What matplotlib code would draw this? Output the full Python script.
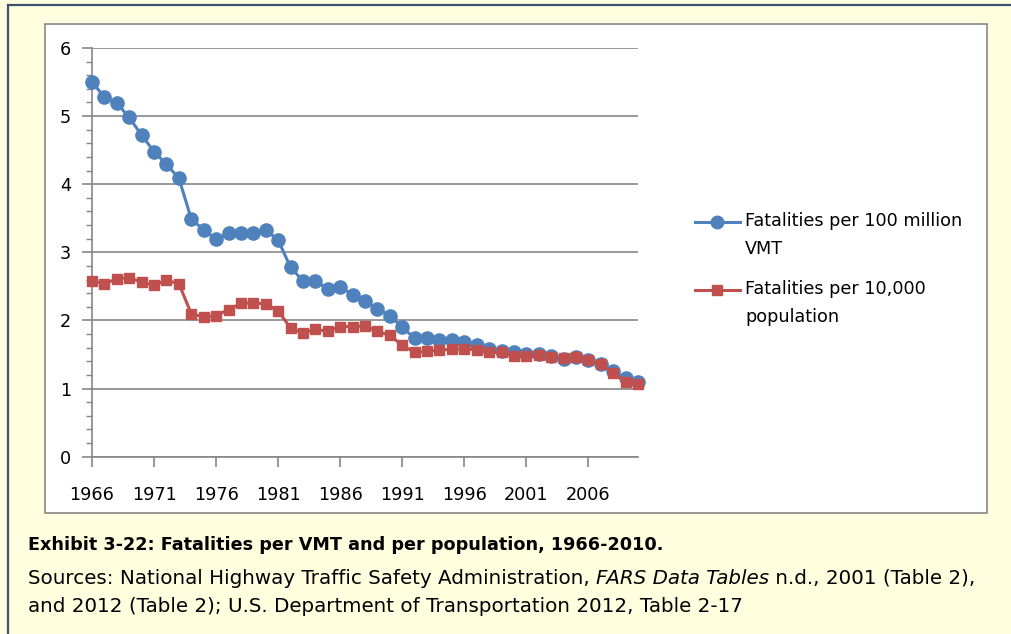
import matplotlib
matplotlib.use("Agg")
import matplotlib.pyplot as plt
from matplotlib.patches import Rectangle
from matplotlib.lines import Line2D

years = list(range(1966, 2011))
vmt_rate = [5.50, 5.28, 5.19, 4.98, 4.72, 4.48, 4.29, 4.09, 3.49, 3.33,
            3.19, 3.28, 3.28, 3.28, 3.33, 3.18, 2.78, 2.58, 2.58, 2.46,
            2.49, 2.38, 2.29, 2.17, 2.07, 1.90, 1.74, 1.74, 1.72, 1.72,
            1.69, 1.64, 1.58, 1.55, 1.53, 1.51, 1.51, 1.48, 1.44, 1.46,
            1.42, 1.36, 1.26, 1.15, 1.10]
pop_rate = [2.58, 2.54, 2.61, 2.63, 2.56, 2.52, 2.59, 2.54, 2.10, 2.05,
            2.07, 2.16, 2.25, 2.26, 2.24, 2.14, 1.89, 1.82, 1.87, 1.84,
            1.91, 1.91, 1.92, 1.84, 1.78, 1.64, 1.53, 1.55, 1.56, 1.58,
            1.58, 1.57, 1.53, 1.53, 1.48, 1.48, 1.49, 1.47, 1.45, 1.46,
            1.42, 1.36, 1.23, 1.10, 1.06]
series_labels = ["Fatalities per 100 million\nVMT", "Fatalities per 10,000\npopulation"]
x_tick_labels = [str(y) for y in range(1966, 2007, 5)]
caption_title = "Exhibit 3-22: Fatalities per VMT and per population, 1966-2010."

W, H = 1012, 634
FONT = "DejaVu Sans"
BLUE = "#4F81BD"
RED = "#C0504D"
GRID = "#868686"
YELLOW = "#FFFFE0"

fig = plt.figure(figsize=(W / 100, H / 100), dpi=100, facecolor=YELLOW)
renderer = fig.canvas.get_renderer()

def fx(px):
    return px / W

def fy(py):
    return 1 - py / H

# outer border (right and bottom edges lie outside the visible crop)
fig.patches.append(Rectangle((fx(8), fy(660)), fx(1040 - 8), (660 - 5) / H,
                             transform=fig.transFigure, facecolor=YELLOW,
                             edgecolor="#3B506E", linewidth=1.6, zorder=0))
# chart area
fig.patches.append(Rectangle((fx(45), fy(513)), fx(987 - 45), (513 - 24) / H,
                             transform=fig.transFigure, facecolor="white",
                             edgecolor=GRID, linewidth=1.2, zorder=1))

ax_l, ax_r, ax_t, ax_b = 92, 638, 48, 456.7
ax = fig.add_axes([fx(ax_l), fy(ax_b), fx(ax_r - ax_l), (ax_b - ax_t) / H], zorder=2)
ax.set_facecolor("none")
ax.plot(years, vmt_rate, color=BLUE, lw=2.2, marker="o", ms=9.5, zorder=3,
        clip_on=False, label=series_labels[0])
ax.plot(years, pop_rate, color=RED, lw=2.2, marker="s", ms=7.5, zorder=4,
        clip_on=False, label=series_labels[1])

ax.set_xlim(1966, 2010)
ax.set_ylim(0, 6)
ax.set_yticks(range(0, 7))
ax.set_yticks([i * 0.2 for i in range(31)], minor=True)
ax.set_xticks(list(range(1966, 2007, 5)))
ax.set_xticklabels(x_tick_labels)
ax.grid(axis="y", which="major", color=GRID, lw=1.2)
ax.set_axisbelow(True)
for s in ["top", "right"]:
    ax.spines[s].set_visible(False)
for s in ["left", "bottom"]:
    ax.spines[s].set_color(GRID)
    ax.spines[s].set_linewidth(1.2)
ax.tick_params(axis="y", which="major", length=7, width=1.2, color=GRID,
               labelsize=12.7, pad=8)
ax.tick_params(axis="y", which="minor", length=4, width=1, color=GRID)
ax.tick_params(axis="x", which="major", length=7, width=1.2, color=GRID,
               labelsize=12.7, pad=14)
for lab in ax.get_xticklabels() + ax.get_yticklabels():
    lab.set_fontfamily(FONT)

# legend drawn manually to keep Excel-like layout
leg_entries = [(series_labels[0], BLUE, "o", 9.0, 222),
               (series_labels[1], RED, "s", 7.5, 290)]
for label, color, mk, ms, ypx in leg_entries:
    fig.add_artist(Line2D([fx(695), fx(740)], [fy(ypx), fy(ypx)],
                          transform=fig.transFigure, color=color, lw=2.2, zorder=5))
    fig.add_artist(Line2D([fx(717.5)], [fy(ypx)], transform=fig.transFigure,
                          color=color, marker=mk, ms=ms, zorder=6))
    fig.text(fx(745), fy(ypx - 10), label, fontfamily=FONT, fontsize=12.7,
             va="top", ha="left", linespacing=1.68, zorder=6)

# caption
fig.text(fx(28), fy(545), caption_title, fontfamily=FONT, fontweight="bold",
         fontsize=12.7, va="center", ha="left", color="black")

def seq_text(x0, y, parts, size):
    x = x0
    for s, style in parts:
        t = fig.text(fx(x), fy(y), s, fontfamily=FONT, fontstyle=style,
                     fontsize=size, va="center", ha="left", color="black")
        bb = t.get_window_extent(renderer=renderer)
        x += bb.width

seq_text(28, 578, [("Sources: National Highway Traffic Safety Administration, ", "normal"),
                   ("FARS Data Tables", "italic"),
                   (" n.d., 2001 (Table 2),", "normal")], 14.3)
seq_text(28, 606, [("and 2012 (Table 2); U.S. Department of Transportation 2012, Table 2-17", "normal")], 14.3)

fig.savefig("out.png", dpi=100, facecolor=YELLOW)
